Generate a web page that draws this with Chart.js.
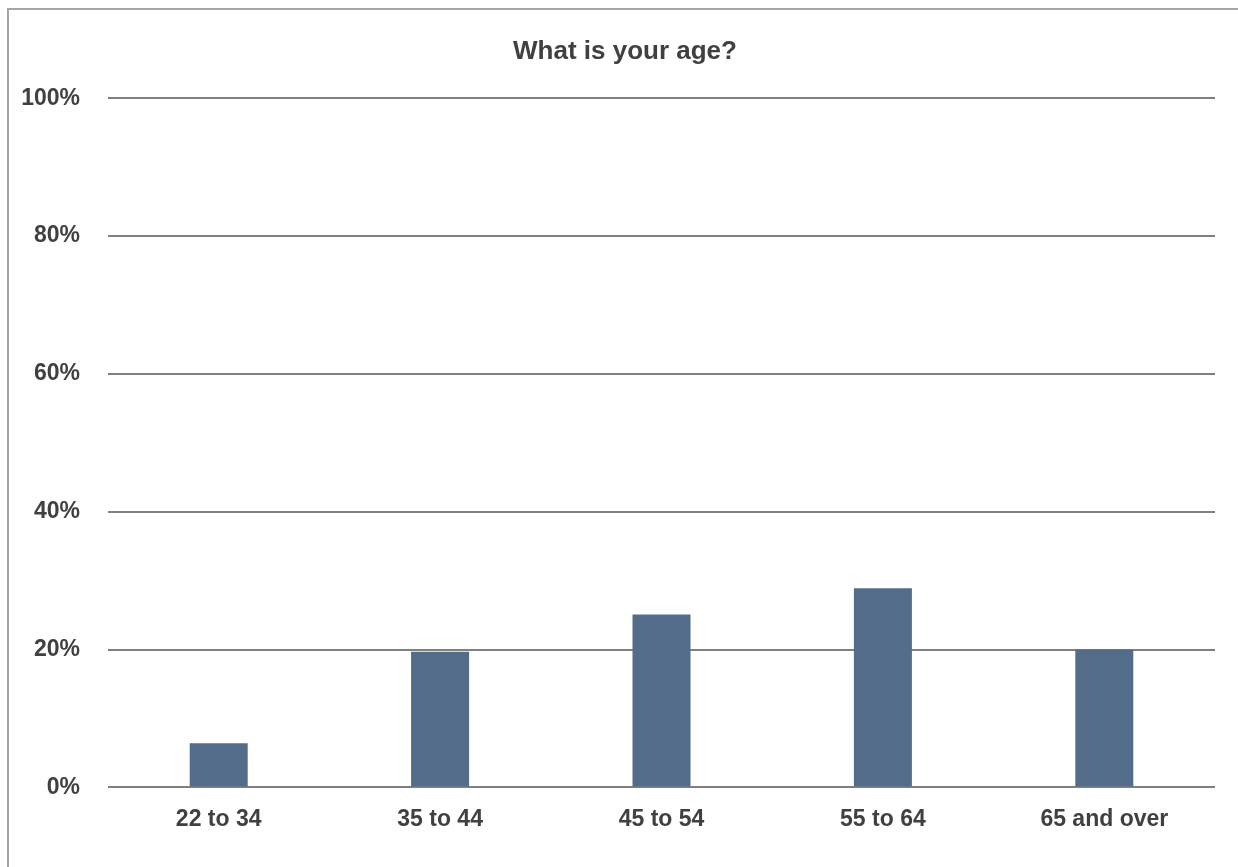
<!DOCTYPE html>
<html>
<head>
<meta charset="utf-8">
<script src="https://cdn.jsdelivr.net/npm/chart.js@4.4.0/dist/chart.umd.min.js"></script>
<style>
  html, body { margin:0; padding:0; background:#fff; }
  #wrap { position:relative; width:1238px; height:867px; overflow:hidden; }
  #frame { position:absolute; left:7px; top:8px; width:1300px; height:1000px;
           border-left:2px solid #a6a6a6; border-top:2px solid #a6a6a6; }
</style>
</head>
<body>
<div id="wrap">
  <canvas id="age-chart"></canvas>
  <div id="frame"></div>
</div>
<script>
// values
const ageGroups = ['22 to 34', '35 to 44', '45 to 54', '55 to 64', '65 and over'];
const agePct = [6.4, 19.7, 25.1, 28.9, 20.0];
const yTicks = [0, 20, 40, 60, 80, 100];

const fontFam = "'Liberation Sans', Arial, sans-serif";
const txt = '#404040';

// the title in the picture is centred on the framed area, not the whole canvas
const titleShift = {
  id: 'titleShift',
  afterLayout(chart) {
    if (chart.titleBlock) chart.titleBlock.left = 35;
  }
};

new Chart(document.getElementById('age-chart').getContext('2d'), {
  type: 'bar',
  data: {
    labels: ageGroups,
    datasets: [{
      data: agePct,
      backgroundColor: '#536c89',
      barPercentage: 0.262,
      categoryPercentage: 1
    }]
  },
  options: {
    responsive: true,
    maintainAspectRatio: false,
    animation: false,
    layout: { padding: { top: 20, right: 23, bottom: 16, left: 0 } },
    plugins: {
      legend: { display: false },
      tooltip: { enabled: false },
      title: {
        display: true,
        text: 'What is your age?',
        color: txt,
        font: { family: fontFam, size: 26, weight: 'bold' },
        padding: { top: 16, bottom: 31 }
      }
    },
    scales: {
      x: {
        grid: { display: false, drawTicks: false },
        border: { display: false },
        ticks: { color: txt, padding: 18, font: { family: fontFam, size: 23, weight: 'bold' } }
      },
      y: {
        min: 0, max: 100,
        afterBuildTicks: s => { s.ticks = yTicks.map(v => ({ value: v })); },
        afterFit: s => { s.width = 108; },
        grid: { color: '#808080', lineWidth: 2, drawTicks: false },
        border: { display: false },
        ticks: {
          color: txt, padding: 28,
          font: { family: fontFam, size: 23, weight: 'bold' },
          callback: v => v + '%'
        }
      }
    }
  },
  plugins: [titleShift]
});
</script>
</body>
</html>
